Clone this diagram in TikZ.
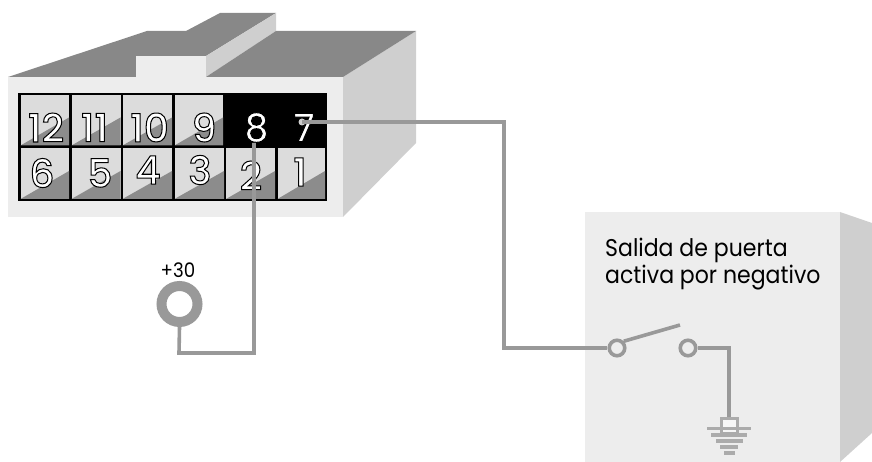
\documentclass[tikz,border=0pt]{standalone}
\usepackage{fontspec}
\setmainfont{Poppins}
\newfontfamily\labelfont{Poppins}[FakeStretch=0.91]
\newfontfamily\digitfont{Poppins Medium}[FakeBold=2.6]
\definecolor{darkface}{HTML}{888888}
\definecolor{lightface}{HTML}{EDEDED}
\definecolor{sideface}{HTML}{CFCFCF}
\definecolor{cellface}{HTML}{DCDCDC}
\definecolor{cellshade}{HTML}{8C8C8C}
\definecolor{wire}{HTML}{999999}
\definecolor{groundwire}{HTML}{ABABAB}
\newcommand{\pincell}[5]{%
  \fill[cellface] (#1,#2) rectangle (#3,#4);
  \fill[cellshade] (#1,#4) -- (#3,{#4-28}) -- (#3,#4) -- cycle;
}
\newcommand{\pinlabel}[4]{%
  \node[pinnum,text=white] (#1) at (#2,#3) {\digitfont\special{pdf:code 0 0 0 RG}#4};
}
\tikzset{
  pinnum/.style={inner sep=0pt,font=\fontsize{39}{39}\selectfont},
  wireline/.style={draw=wire,line width=3.6pt},
  termring/.style={circle,draw=wire,line width=3.6pt,fill=lightface,minimum size=15.5pt,inner sep=0pt},
  gbar/.style={draw=groundwire,line width=3.2pt},
  boxtext/.style={inner sep=0pt,anchor=base west,text=black,font=\fontsize{24.2}{24.2}\selectfont\labelfont}
}
\begin{document}
\begin{tikzpicture}[x=1pt,y=-1pt]
\useasboundingbox (0,0) rectangle (872,462);
% connector housing
\fill[lightface] (8,77) rectangle (343,217);
\fill[sideface] (343,77) -- (416,31) -- (416,143) -- (343,217) -- cycle;
\fill[darkface] (8,77) -- (147,31) -- (186,31) -- (220,13) -- (276,13) -- (206,56) -- (136,56) -- (136,77) -- cycle;
\fill[lightface] (136,56) rectangle (206,77);
\fill[sideface] (206,56) -- (276,13) -- (276,31) -- (206,77) -- cycle;
\fill[darkface] (206,77) -- (276,31) -- (416,31) -- (343,77) -- cycle;
% pin grid
\fill[black] (18,93) rectangle (327,201);
\pincell{20.5}{95.5}{69}{145.5}{}
\pincell{71.5}{95.5}{120.5}{145.5}{}
\pincell{122.5}{95.5}{172}{145.5}{}
\pincell{174.5}{95.5}{223}{145.5}{}
\pincell{20.5}{148}{69}{199}{}
\pincell{71.5}{148}{120.5}{199}{}
\pincell{122.5}{148}{172}{199}{}
\pincell{174.5}{148}{224}{199}{}
\pincell{226}{148}{275}{199}{}
\pincell{277.5}{148}{325}{199}{}
\pinlabel{p12}{46}{127.5}{12}
\pinlabel{p11}{94.5}{127.5}{11}
\pinlabel{p10}{149.5}{127.5}{10}
\pinlabel{p9}{204}{127.5}{9}
\pinlabel{p8}{256.5}{127.5}{8}
\pinlabel{p7}{304}{127.5}{7}
\pinlabel{p6}{42}{173}{6}
\pinlabel{p5}{100}{173}{5}
\pinlabel{p4}{148}{170}{4}
\pinlabel{p3}{200}{170}{3}
\pinlabel{p2}{251}{175.5}{2}
\pinlabel{p1}{300}{172}{1}
% right box
\fill[lightface] (585,212) rectangle (840,462);
\fill[sideface] (840,212) -- (872,223) -- (872,433) -- (840,462) -- cycle;
\node[boxtext] (title1) at (605,256) {Salida de puerta};
\node[boxtext] (title2) at (605,283) {activa por negativo};
% +30 terminal
\node[circle,draw=wire,line width=10pt,fill=white,minimum size=36pt,inner sep=0pt] (term) at (179.5,304) {};
\node[inner sep=0pt,text=black,font=\fontsize{20}{20}\selectfont\labelfont] (plus) at (178,270) {+30};
% wires
\coordinate (w8) at (254,143);
\coordinate (w8a) at (254,353);
\coordinate (w8b) at (179,353);
\draw[wireline,line join=miter] (w8) -- (w8a) -- (w8b) -- (term.south);
\node[circle,fill=sideface,minimum size=7pt,inner sep=0pt] (dot7) at (302,122) {};
\coordinate (w7a) at (504,122);
\coordinate (w7b) at (504,348);
\node[termring] (sw1) at (617,348) {};
\node[termring] (sw2) at (688,348) {};
\draw[wireline] (dot7.center) -- (w7a) -- (w7b) -- (sw1.west);
\coordinate (arm) at (680,325);
\draw[wireline] (sw1.north east) -- (arm);
\coordinate (g0) at (729,348);
\coordinate (g1) at (729,417);
\draw[wireline] (sw2.east) -- (g0) -- (g1);
% ground symbol
\draw[groundwire,line width=3pt,fill=white!50!lightface] (721,418) rectangle (737,433);
\draw[gbar] (707,428.5) -- (751,428.5);
\draw[gbar] (711,435) -- (747,435);
\draw[gbar] (716,441) -- (743,441);
\draw[gbar] (720,447) -- (738,447);
\draw[gbar] (724,453) -- (735,453);
\end{tikzpicture}
\end{document}
